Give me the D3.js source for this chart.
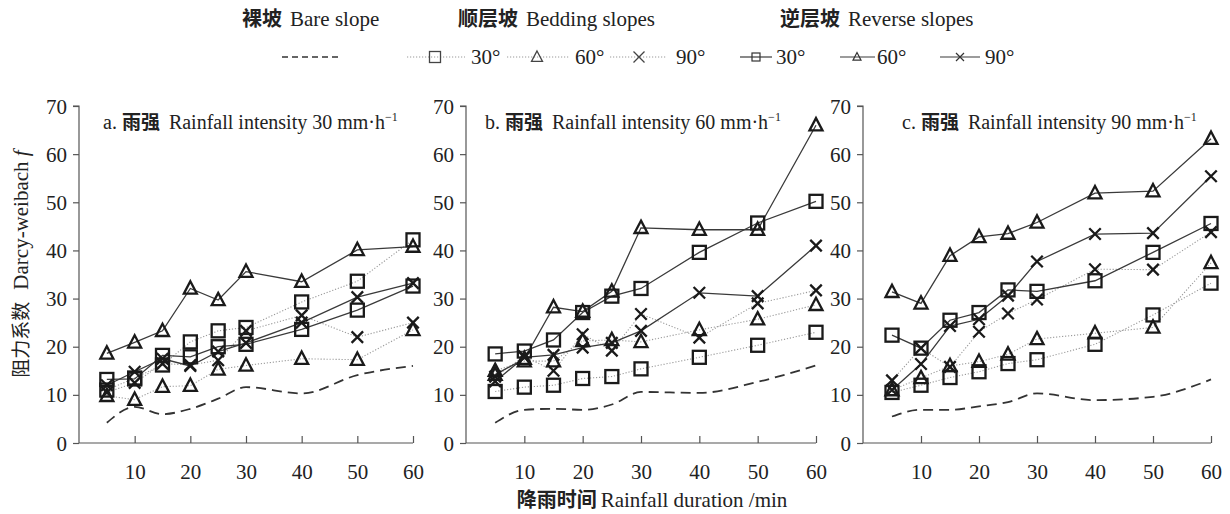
<!DOCTYPE html>
<html><head><meta charset="utf-8">
<script src="https://cdn.jsdelivr.net/npm/d3@7"></script>
<style>body{margin:0;background:#fff}svg{display:block}</style>
</head><body><svg id="c" width="1230" height="514"></svg>
<script>
const times = [5, 10, 15, 20, 25, 30, 40, 50, 60];
const xTicks = [10, 20, 30, 40, 50, 60];
const yTicks = [0, 10, 20, 30, 40, 50, 60, 70];
const panelLetters = ["a.", "b.", "c."];
const intensities = [30, 60, 90];

// Panel a (30 mm/h)
const a_bare  = [4.2, 7.5, 6.0, 7.1, 9.2, 11.6, 10.3, 14.1, 16.0];
const a_bed30 = [11.0, 13.5, 16.2, 21.0, 23.3, 24.0, 29.3, 33.6, 42.2];
const a_bed60 = [9.8, 9.0, 11.7, 11.9, 15.3, 16.1, 17.5, 17.3, 23.5];
const a_bed90 = [10.5, 12.5, 16.5, 16.2, 17.2, 23.3, 26.5, 22.0, 25.0];
const a_rev30 = [13.2, 13.3, 18.2, 17.9, 20.0, 20.5, 23.6, 27.6, 32.6];
const a_rev60 = [18.6, 20.9, 23.3, 32.1, 29.7, 35.6, 33.5, 40.1, 40.8];
const a_rev90 = [12.0, 14.8, 17.5, 16.0, 19.0, 20.8, 25.0, 30.3, 33.2];
// Panel b (60 mm/h)
const b_bare  = [4.2, 6.9, 7.1, 6.9, 8.0, 10.6, 10.4, 12.7, 16.1];
const b_bed30 = [10.7, 11.6, 12.0, 13.4, 13.8, 15.4, 17.8, 20.3, 23.0];
const b_bed60 = [15.0, 17.0, 17.0, 21.2, 21.4, 21.0, 23.5, 25.7, 28.7];
const b_bed90 = [13.8, 18.0, 15.0, 22.6, 19.2, 26.8, 21.9, 29.0, 31.7];
const b_rev30 = [18.5, 19.1, 21.4, 27.1, 30.5, 32.1, 39.6, 45.7, 50.2];
const b_rev60 = [14.2, 17.5, 28.2, 27.3, 31.5, 44.7, 44.3, 44.3, 66.0];
const b_rev90 = [12.8, 17.8, 18.3, 19.8, 20.8, 23.3, 31.2, 30.5, 41.0];
// Panel c (90 mm/h)
const c_bare  = [5.5, 6.9, 6.9, 7.6, 8.5, 10.3, 8.9, 9.6, 13.2];
const c_bed30 = [10.5, 12.0, 13.6, 14.8, 16.5, 17.3, 20.5, 26.6, 33.2];
const c_bed60 = [11.0, 13.5, 16.0, 16.9, 18.4, 21.6, 22.8, 24.0, 37.4];
const c_bed90 = [13.0, 19.7, 15.8, 23.1, 26.9, 29.8, 36.1, 36.0, 43.8];
const c_rev30 = [22.4, 19.7, 25.5, 27.1, 31.8, 31.5, 33.7, 39.6, 45.6];
const c_rev60 = [31.4, 29.0, 38.9, 42.8, 43.5, 45.8, 51.9, 52.3, 63.2];
const c_rev90 = [11.0, 16.4, 24.3, 25.7, 30.6, 37.7, 43.4, 43.6, 55.4];

const panelsData = [
  {bare:a_bare, bed30:a_bed30, bed60:a_bed60, bed90:a_bed90, rev30:a_rev30, rev60:a_rev60, rev90:a_rev90},
  {bare:b_bare, bed30:b_bed30, bed60:b_bed60, bed90:b_bed90, rev30:b_rev30, rev60:b_rev60, rev90:b_rev90},
  {bare:c_bare, bed30:c_bed30, bed60:c_bed60, bed90:c_bed90, rev30:c_rev30, rev60:c_rev60, rev90:c_rev90}
];

const SERIF = "'Liberation Serif','Times New Roman',serif";
const CJK = "'Noto Sans CJK SC','Noto Sans CJK JP',sans-serif";

const svg = d3.select("#c");
const layout = [
  {x0: 79, x1: 413, tx: 103},
  {x0: 466, x1: 816, tx: 485},
  {x0: 863, x1: 1211, tx: 902}
];
const yTop = 106, yBot = 443;

const seriesDefs = [
  {key:"bed30", shape:"square", style:"dot"},
  {key:"bed60", shape:"triangle", style:"dot"},
  {key:"bed90", shape:"cross", style:"dot"},
  {key:"rev30", shape:"square", style:"solid"},
  {key:"rev60", shape:"triangle", style:"solid"},
  {key:"rev90", shape:"cross", style:"solid"}
];

function drawMarker(g, shape, cx, cy, s, sw, color) {
  const h = s / 2;
  if (shape === "square") {
    g.append("rect").attr("x", cx - h).attr("y", cy - h).attr("width", s).attr("height", s)
      .attr("fill", "none").attr("stroke", color).attr("stroke-width", sw);
  } else if (shape === "triangle") {
    const hh = s * 0.95;
    g.append("path").attr("d", `M${cx},${cy - hh*0.58}L${cx + h},${cy + hh*0.42}L${cx - h},${cy + hh*0.42}Z`)
      .attr("fill", "none").attr("stroke", color).attr("stroke-width", sw).attr("stroke-linejoin","miter");
  } else {
    g.append("path").attr("d", `M${cx-h},${cy-h}L${cx+h},${cy+h}M${cx-h},${cy+h}L${cx+h},${cy-h}`)
      .attr("fill", "none").attr("stroke", color).attr("stroke-width", sw);
  }
}

function lineStyle(sel, style) {
  if (style === "dot") sel.attr("stroke", "#9a9a9a").attr("stroke-width", 1.1).attr("stroke-dasharray", "1.2,1.8");
  else if (style === "solid") sel.attr("stroke", "#3a3a3a").attr("stroke-width", 1.3);
  else sel.attr("stroke", "#333").attr("stroke-width", 1.8).attr("stroke-dasharray", "10,6");
  return sel.attr("fill", "none");
}

panelsData.forEach((pd, i) => {
  const L = layout[i];
  const x = d3.scaleLinear().domain([0, 60]).range([L.x0, L.x1]);
  const y = d3.scaleLinear().domain([0, 70]).range([yBot, yTop]);
  const g = svg.append("g");

  const ya = g.append("g").attr("transform", `translate(${L.x0},0)`)
    .call(d3.axisLeft(y).tickValues(yTicks).tickSize(6).tickPadding(6));
  ya.select(".domain").attr("stroke", "#555").attr("stroke-width", 1.2).attr("d", `M-6,${yTop}H0V${yBot}`);
  ya.selectAll(".tick line").attr("stroke", "#555").attr("stroke-width", 1.2);
  ya.selectAll(".tick text").attr("font-family", SERIF).attr("font-size", 21).attr("fill", "#222").attr("dy", "0.34em");

  const xa = g.append("g").attr("transform", `translate(0,${yBot})`)
    .call(d3.axisBottom(x).tickValues(xTicks).tickSize(-7).tickPadding(21));
  xa.select(".domain").attr("stroke", "#555").attr("stroke-width", 1.2).attr("d", `M${L.x0},0H${L.x1}`);
  xa.selectAll(".tick line").attr("stroke", "#555").attr("stroke-width", 1.2);
  xa.selectAll(".tick text").attr("font-family", SERIF).attr("font-size", 21).attr("fill", "#222");

  const lineGen = d3.line().x((d, j) => x(times[j])).y(d => y(d)).curve(d3.curveMonotoneX);
  const lineStraight = d3.line().x((d, j) => x(times[j])).y(d => y(d));

  lineStyle(g.append("path").attr("d", lineGen(pd.bare)), "dash");
  seriesDefs.filter(s => s.style === "dot").forEach(s => lineStyle(g.append("path").attr("d", lineStraight(pd[s.key])), "dot"));
  seriesDefs.filter(s => s.style === "solid").forEach(s => lineStyle(g.append("path").attr("d", lineStraight(pd[s.key])), "solid"));

  seriesDefs.forEach(s => {
    pd[s.key].forEach((v, j) => drawMarker(g, s.shape, x(times[j]), y(v), s.shape === "cross" ? 11.5 : 13, 2.3, "#1a1a1a"));
  });

  const t = g.append("text").attr("x", L.tx).attr("y", 129).attr("font-size", 20).attr("fill", "#222").attr("font-family", SERIF);
  t.append("tspan").text(panelLetters[i] + " ");
  t.append("tspan").attr("font-family", CJK).attr("font-weight", "bold").attr("font-size", 19).text("雨强");
  t.append("tspan").attr("dx", 9).text(`Rainfall intensity ${intensities[i]} mm·h`);
  t.append("tspan").attr("font-size", 12).attr("dy", -8).text("−1");
});

// y title
const yt = svg.append("text").attr("transform", "translate(28,264) rotate(-90)").attr("text-anchor", "middle")
  .attr("font-family", SERIF).attr("font-size", 21).attr("fill", "#222");
yt.append("tspan").attr("font-family", CJK).attr("font-size", 19).text("阻力系数");
yt.append("tspan").attr("dx", 12).text("Darcy-weibach ");
yt.append("tspan").attr("font-style", "italic").text("f");

// x title
const xt = svg.append("text").attr("x", 652).attr("y", 507).attr("text-anchor", "middle")
  .attr("font-family", SERIF).attr("font-size", 21).attr("fill", "#222");
xt.append("tspan").attr("font-family", CJK).attr("font-weight", "bold").attr("font-size", 20).text("降雨时间");
xt.append("tspan").attr("dx", 4).text("Rainfall duration /min");

// legend headers
const headers = [
  {x: 242, zh: "裸坡", en: "Bare slope"},
  {x: 458, zh: "顺层坡", en: "Bedding slopes"},
  {x: 780, zh: "逆层坡", en: "Reverse slopes"}
];
headers.forEach(h => {
  const t = svg.append("text").attr("x", h.x).attr("y", 26).attr("font-family", SERIF).attr("font-size", 21).attr("fill", "#222");
  t.append("tspan").attr("font-family", CJK).attr("font-weight", "bold").attr("font-size", 20).text(h.zh);
  t.append("tspan").attr("dx", 8).text(h.en);
});

// legend row 2
const ly = 57;
lineStyle(svg.append("path").attr("d", `M282,${ly}H340`), "dash").attr("stroke-dasharray", "6,4").attr("stroke-width", 1.3);
const legItems = [
  {x0: 407, x1: 465, m: 435, shape: "square", style: "dot", label: "30°", tx: 471},
  {x0: 507, x1: 570, m: 537, shape: "triangle", style: "dot", label: "60°", tx: 575},
  {x0: 610, x1: 667, m: 639, shape: "cross", style: "dot", label: "90°", tx: 676},
  {x0: 740, x1: 772, m: 756, shape: "square", style: "solid", label: "30°", tx: 776},
  {x0: 840, x1: 875, m: 857, shape: "triangle", style: "solid", label: "60°", tx: 877},
  {x0: 940, x1: 980, m: 960, shape: "cross", style: "solid", label: "90°", tx: 985}
];
legItems.forEach(it => {
  const p = lineStyle(svg.append("path").attr("d", `M${it.x0},${ly}H${it.x1}`), it.style);
  if (it.style === "solid") p.attr("stroke-width", 1.2);
  const dotted = it.style === "dot";
  drawMarker(svg, it.shape, it.m, ly, dotted ? 11 : 8, dotted ? 1.3 : 1.2, dotted ? "#444" : "#333");
  svg.append("text").attr("x", it.tx).attr("y", ly + 7).attr("font-family", SERIF).attr("font-size", 21).attr("fill", "#222").text(it.label);
});
</script></body></html>
